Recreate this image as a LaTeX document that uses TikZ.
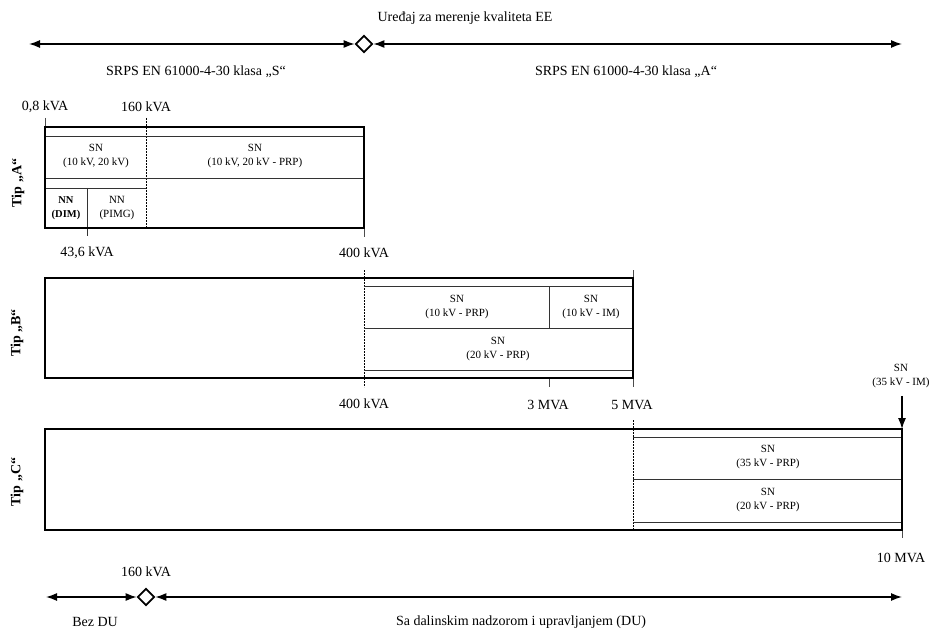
\documentclass[tikz,border=0pt]{standalone}
\usepackage{fontspec}
\setmainfont{Liberation Serif}
\usetikzlibrary{arrows.meta,shapes.geometric}
\begin{document}
\begin{tikzpicture}[x=1pt,y=-1pt,
 big/.style={font=\fontsize{14}{16}\selectfont, inner sep=0},
 small/.style={font=\fontsize{11}{13.5}\selectfont, align=center, inner sep=0},
 tiplbl/.style={font=\fontsize{14}{16}\selectfont\bfseries, rotate=90, inner sep=0},
 frame/.style={line width=2.5pt},
 thinln/.style={line width=0.8pt, draw=black!80},
 tickln/.style={line width=0.6pt, draw=black!70},
 vdash/.style={line width=0.8pt, dash pattern=on 2pt off 1pt},
 arr/.style={line width=1.4pt, {Latex[length=11pt,width=8pt]}-{Latex[length=11pt,width=8pt]}},
 dnarr/.style={line width=1.2pt, -{Latex[length=11pt,width=8pt]}},
 dia/.style={diamond, draw, fill=white, line width=1.7pt, minimum width=17pt, minimum height=17pt, inner sep=0}
]
\useasboundingbox (0,0) rectangle (931,631);

% top scale
\node[big] (title) at (465,18) {Uređaj za merenje kvaliteta EE};
\coordinate (tL) at (29,44);
\coordinate (tR) at (902,44);
\node[dia] (d1) at (364,44) {};
\draw[arr] (tL) -- (d1.west);
\draw[arr] (d1.east) -- (tR);
\node[big] (kS) at (196,72) {SRPS EN 61000-4-30 klasa „S“};
\node[big] (kA) at (626,72) {SRPS EN 61000-4-30 klasa „A“};

% Tip A
\draw[tickln] (45,118) -- (45,127);
\draw[vdash] (146,118) -- (146,228);
\draw[thinln] (45,136) -- (364,136);
\draw[thinln] (45,178) -- (364,178);
\draw[thinln] (45,188) -- (146,188);
\draw[thinln] (87,188) -- (87,236);
\draw[tickln] (364,228) -- (364,237);
\draw[frame] (45,127) rectangle (364,228);
\node[big] (a08) at (45,107) {0,8 kVA};
\node[big] (a160) at (146,107) {160 kVA};
\node[big] (a436) at (87,253) {43,6 kVA};
\node[big] (a400) at (364,253) {400 kVA};
\node[small] (asn1) at (96,156) {SN\\(10 kV, 20 kV)};
\node[small] (asn2) at (255,156) {SN\\(10 kV, 20 kV - PRP)};
\node[small, font=\fontsize{10.5}{13.5}\selectfont\bfseries] (ann1) at (66,208) {NN\\(DIM)};
\node[small] (ann2) at (117,208) {NN\\(PIMG)};
\node[tiplbl] (tA) at (18,183) {Tip „A“};

% Tip B
\draw[vdash] (364,270) -- (364,387);
\draw[tickln] (633,270) -- (633,387);
\draw[tickln] (549,378) -- (549,387);
\draw[thinln] (364,286) -- (633,286);
\draw[thinln] (364,328) -- (633,328);
\draw[thinln] (549,286) -- (549,328);
\draw[thinln] (364,370) -- (633,370);
\draw[frame] (45,278) rectangle (633,378);
\node[small] (bsn1) at (457,307) {SN\\(10 kV - PRP)};
\node[small] (bsn2) at (591,307) {SN\\(10 kV - IM)};
\node[small] (bsn3) at (498,349) {SN\\(20 kV - PRP)};
\node[big] (b400) at (364,404) {400 kVA};
\node[big] (b3) at (548,405) {3 MVA};
\node[big] (b5) at (632,405) {5 MVA};
\node[tiplbl] (tB) at (17,333) {Tip „B“};

% Tip C
\draw[vdash] (633,420) -- (633,530);
\draw[tickln] (902,530) -- (902,538);
\draw[thinln] (633,437) -- (902,437);
\draw[thinln] (633,479) -- (902,479);
\draw[thinln] (633,522) -- (902,522);
\draw[frame] (45,429) rectangle (902,530);
\node[small] (csn1) at (768,457) {SN\\(35 kV - PRP)};
\node[small] (csn2) at (768,500) {SN\\(20 kV - PRP)};
\node[small] (csn3) at (901,376) {SN\\(35 kV - IM)};
\coordinate (cTR) at (902,429);
\draw[dnarr] ([yshift=-8pt]csn3.south -| cTR) -- (cTR);
\node[big] (c10) at (901,558) {10 MVA};
\node[tiplbl] (tC) at (17,482) {Tip „C“};

% bottom scale
\coordinate (bL) at (46,597);
\coordinate (bR) at (902,597);
\node[dia] (d2) at (146,597) {};
\draw[arr] (bL) -- (d2.west);
\draw[arr] (d2.east) -- (bR);
\node[big] (b160) at (146,572) {160 kVA};
\node[big] (bez) at (95,622) {Bez DU};
\node[big] (sa) at (521,622) {Sa dalinskim nadzorom i upravljanjem (DU)};
\end{tikzpicture}
\end{document}
